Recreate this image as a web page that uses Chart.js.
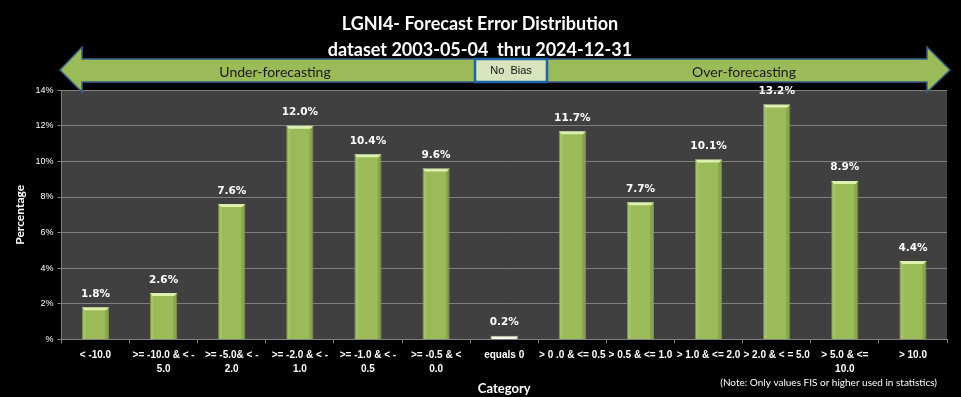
<!DOCTYPE html>
<html>
<head>
<meta charset="utf-8">
<script src="https://cdn.jsdelivr.net/npm/chart.js@4.4.1/dist/chart.umd.min.js"></script>
<style>
  html, body { margin:0; padding:0; background:#000; }
  #wrap { width:961px; height:397px; }
</style>
</head>
<body>
<div id="wrap"><canvas id="chart" width="961" height="397"></canvas></div>
<script>
// data
const categories = ['< -10.0', '>= -10.0 & < -5.0', '>= -5.0& < -2.0', '>= -2.0 & < -1.0', '>= -1.0 & < -0.5',
  '>= -0.5 & < 0.0', 'equals 0', '> 0 .0 & <= 0.5', '> 0.5 & <= 1.0', '> 1.0 & <= 2.0', '> 2.0 & < = 5.0',
  '> 5.0 & <= 10.0', '> 10.0'];
const tickLabels = [['< -10.0'], ['>= -10.0 & < -', '5.0'], ['>= -5.0& < -', '2.0'], ['>= -2.0 & < -', '1.0'],
  ['>= -1.0 & < -', '0.5'], ['>= -0.5 & <', '0.0'], ['equals 0'], ['> 0 .0 & <= 0.5'], ['> 0.5 & <= 1.0'],
  ['> 1.0 & <= 2.0'], ['> 2.0 & < = 5.0'], ['> 5.0 & <=', '10.0'], ['> 10.0']];
const percentages = [1.8, 2.6, 7.6, 12.0, 10.4, 9.6, 0.2, 11.7, 7.7, 10.1, 13.2, 8.9, 4.4];
const yTicks = [0, 2, 4, 6, 8, 10, 12, 14];

const titleLines = ['LGNI4- Forecast Error Distribution', 'dataset 2003-05-04  thru 2024-12-31'];
const noteText = '(Note: Only values FIS or higher used in statistics)';

const GREEN = '#9bbb59';
const isZero = i => categories[i] === 'equals 0';

// plot background + decorations
const decorations = {
  id: 'decorations',
  beforeDraw(chart){
    const {ctx, chartArea:a} = chart;
    ctx.save();
    ctx.fillStyle = '#000';
    ctx.fillRect(0, 0, chart.width, chart.height);
    ctx.fillStyle = '#404040';
    ctx.fillRect(a.left, a.top, a.right - a.left, a.bottom - a.top);
    ctx.restore();
  },
  afterDatasetsDraw(chart){
    const {ctx} = chart;
    const meta = chart.getDatasetMeta(0);
    ctx.save();
    meta.data.forEach((bar, i) => {
      const w = bar.width, x0 = bar.x - w/2, h = bar.base - bar.y;
      if(!isZero(i)){
        // side shading
        ctx.fillStyle = 'rgba(255,255,255,0.10)';
        ctx.fillRect(x0 + 1, bar.y, 3, h);
        ctx.fillStyle = 'rgba(0,0,0,0.12)';
        ctx.fillRect(x0 + w - 4, bar.y, 3, h);
        // top bevel
        ctx.fillStyle = 'rgba(235,250,190,0.85)';
        ctx.beginPath();
        ctx.moveTo(x0, bar.y);
        ctx.lineTo(x0 + w, bar.y);
        ctx.lineTo(x0 + w - 3, bar.y + 3);
        ctx.lineTo(x0 + 3, bar.y + 3);
        ctx.closePath();
        ctx.fill();
      }
      // value label
      ctx.fillStyle = '#ffffff';
      ctx.font = 'bold 10.5px "DejaVu Sans"';
      ctx.textAlign = 'center';
      ctx.textBaseline = 'bottom';
      ctx.fillText(percentages[i].toFixed(1) + '%', bar.x, bar.y - 8);
    });
    ctx.restore();
  },
  afterDraw(chart){
    const {ctx} = chart;
    ctx.save();
    // double arrow
    const L = 60, R = 950, hb1 = 82, hb2 = 927, yc = 70, ht = 47, hbm = 92, bt = 59, bb = 82;
    ctx.beginPath();
    ctx.moveTo(L, yc);
    ctx.lineTo(hb1, ht);
    ctx.lineTo(hb1, bt);
    ctx.lineTo(hb2, bt);
    ctx.lineTo(hb2, ht);
    ctx.lineTo(R, yc);
    ctx.lineTo(hb2, hbm);
    ctx.lineTo(hb2, bb);
    ctx.lineTo(hb1, bb);
    ctx.lineTo(hb1, hbm);
    ctx.closePath();
    ctx.fillStyle = GREEN;
    ctx.fill();
    ctx.lineWidth = 1.5;
    ctx.strokeStyle = '#385d8a';
    ctx.stroke();

    ctx.fillStyle = '#1a1a1a';
    ctx.font = '14px Lato';
    ctx.textAlign = 'center';
    ctx.textBaseline = 'middle';
    ctx.fillText('Under-forecasting', 275, 72);
    ctx.fillText('Over-forecasting', 744, 72);

    // no bias box
    ctx.fillStyle = '#d7e4bd';
    ctx.fillRect(475, 59, 72, 23);
    ctx.lineWidth = 2.5;
    ctx.strokeStyle = '#1f64a8';
    ctx.strokeRect(475, 59, 72, 23);
    ctx.fillStyle = '#111';
    ctx.font = '11px "Liberation Sans"';
    ctx.fillText('No  Bias', 511, 71);

    // note
    ctx.fillStyle = '#ffffff';
    ctx.font = '10px Lato';
    ctx.textAlign = 'right';
    ctx.fillText(noteText, 937, 383);
    ctx.restore();
  }
};

new Chart(document.getElementById('chart'), {
  type: 'bar',
  data: {
    labels: tickLabels,
    datasets: [{
      label: 'Percentage',
      data: percentages,
      backgroundColor: percentages.map((v, i) => isZero(i) ? '#f4f4f4' : GREEN),
      borderColor: percentages.map((v, i) => isZero(i) ? '#c4d79b' : '#7a9440'),
      borderWidth: 1,
      barPercentage: 0.8,
      categoryPercentage: 0.5
    }]
  },
  options: {
    responsive: false,
    animation: false,
    layout: { padding: { top: 0, right: 14, left: 13, bottom: 0 } },
    plugins: {
      legend: { display: false },
      tooltip: { enabled: false },
      title: {
        display: true,
        text: titleLines,
        color: '#ffffff',
        font: { family: 'Lato', size: 18, weight: 'bold', lineHeight: 1.45 },
        padding: { top: 11, bottom: 27 }
      }
    },
    scales: {
      x: {
        grid: { display: true, drawOnChartArea: false, drawTicks: true, tickLength: 4, color: '#808080', offset: true },
        border: { color: '#808080' },
        ticks: {
          color: '#ffffff',
          font: { family: 'Liberation Sans', size: 10, weight: 'bold', lineHeight: 1.4 },
          autoSkip: false, maxRotation: 0, minRotation: 0, padding: 5
        },
        title: {
          display: true, text: 'Category', color: '#ffffff',
          font: { family: 'Lato', size: 13, weight: 'bold' },
          padding: { top: 0, bottom: 0 }
        }
      },
      y: {
        min: 0, max: 14,
        afterBuildTicks(axis){ axis.ticks = yTicks.map(v => ({ value: v })); },
        grid: { color: '#7f7f7f', tickLength: 4 },
        border: { color: '#808080' },
        ticks: {
          color: '#ffffff',
          font: { family: 'Liberation Sans', size: 9 },
          padding: 4,
          callback: v => v === 0 ? '%' : v + '%'
        },
        title: {
          display: true, text: 'Percentage', color: '#ffffff',
          font: { family: 'Lato', size: 12, weight: 'bold' },
          padding: { top: 0, bottom: 4 }
        }
      }
    }
  },
  plugins: [decorations]
});
</script>
</body>
</html>
